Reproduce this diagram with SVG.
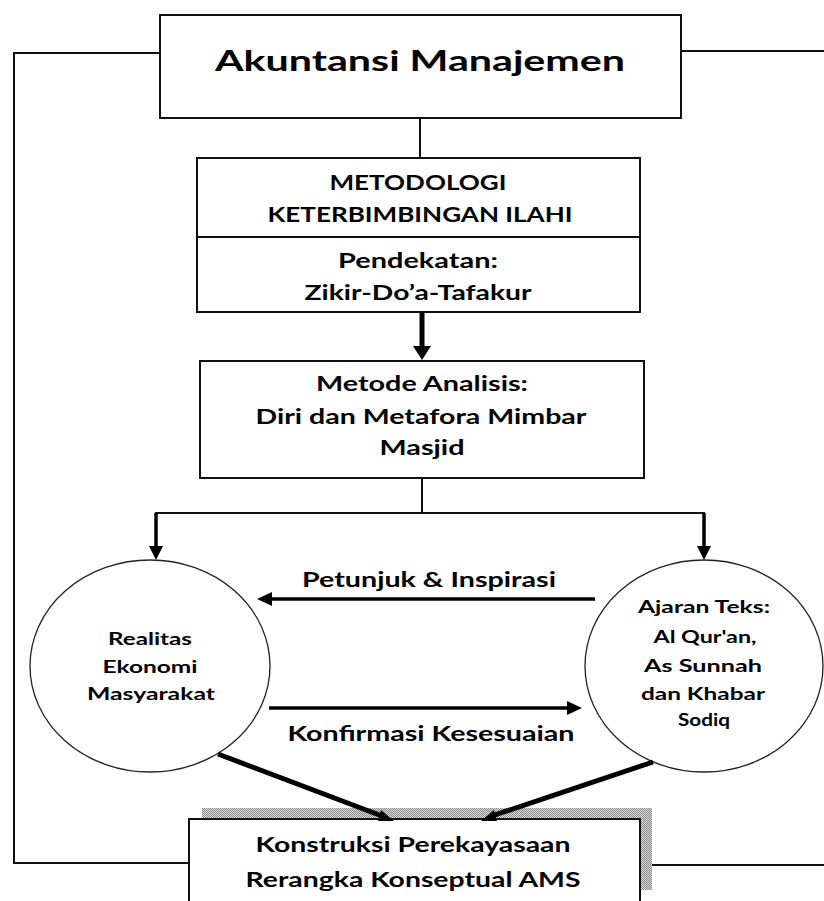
<svg xmlns="http://www.w3.org/2000/svg" width="824" height="901" viewBox="0 0 824 901">
  <style>
    .box { fill: #ffffff; stroke: #111111; stroke-width: 2; }
    .oval { fill: #ffffff; stroke: #222222; stroke-width: 1.3; }
    .line { fill: none; stroke: #111111; stroke-width: 2; }
    .thick { fill: none; stroke: #000000; stroke-width: 5; }
    .mid { fill: none; stroke: #000000; stroke-width: 3.5; }
    .head { fill: #000000; }
    text { font-family: Lato, "Open Sans", "Liberation Sans", sans-serif; font-weight: 700; fill: #000000; text-anchor: middle; }
    .t1 { font-size: 29px; }
    .t2 { font-size: 21px; }
    .t3 { font-size: 16.5px; }
    .t4 { font-size: 20px; }
  </style>
  <defs>
    <pattern id="dots" width="2" height="2" patternUnits="userSpaceOnUse">
      <rect width="2" height="2" fill="#d8d8d8"/>
      <rect width="1" height="1" fill="#8c8c8c"/>
      <rect x="1" y="1" width="1" height="1" fill="#8c8c8c"/>
    </pattern>
  </defs>

  <g id="akuntansi-manajemen">
    <rect class="box" x="160" y="15" width="521" height="103"/>
    <text class="t1" x="420" y="71" textLength="410" lengthAdjust="spacingAndGlyphs">Akuntansi Manajemen</text>
  </g>

  <g id="metodologi">
    <rect class="box" x="197" y="158" width="443" height="154"/>
    <line class="line" x1="197" y1="237" x2="640" y2="237"/>
    <text class="t2" x="418" y="190" textLength="177" lengthAdjust="spacingAndGlyphs">METODOLOGI</text>
    <text class="t2" x="420" y="222" textLength="305" lengthAdjust="spacingAndGlyphs">KETERBIMBINGAN ILAHI</text>
    <text class="t2" x="418" y="268" textLength="160" lengthAdjust="spacingAndGlyphs">Pendekatan:</text>
    <text class="t2" x="418" y="300" textLength="227" lengthAdjust="spacingAndGlyphs">Zikir-Do’a-Tafakur</text>
  </g>

  <g id="metode-analisis">
    <rect class="box" x="200" y="361" width="444" height="117"/>
    <text class="t2" x="422" y="391" textLength="212" lengthAdjust="spacingAndGlyphs">Metode Analisis:</text>
    <text class="t2" x="421" y="424" textLength="331" lengthAdjust="spacingAndGlyphs">Diri dan Metafora Mimbar</text>
    <text class="t2" x="422" y="455" textLength="85" lengthAdjust="spacingAndGlyphs">Masjid</text>
  </g>

  <g id="realitas">
    <ellipse class="oval" cx="150" cy="666" rx="120" ry="106"/>
    <text class="t3" x="150" y="645" textLength="84" lengthAdjust="spacingAndGlyphs">Realitas</text>
    <text class="t3" x="150" y="673" textLength="95" lengthAdjust="spacingAndGlyphs">Ekonomi</text>
    <text class="t3" x="151" y="700" textLength="128" lengthAdjust="spacingAndGlyphs">Masyarakat</text>
  </g>

  <g id="ajaran-teks">
    <ellipse class="oval" cx="704" cy="666" rx="119" ry="106"/>
    <text class="t3" x="704" y="613" textLength="132" lengthAdjust="spacingAndGlyphs">Ajaran Teks:</text>
    <text class="t3" x="705" y="643" textLength="103" lengthAdjust="spacingAndGlyphs">Al Qur'an,</text>
    <text class="t3" x="703" y="672" textLength="118" lengthAdjust="spacingAndGlyphs">As Sunnah</text>
    <text class="t3" x="703" y="700" textLength="124" lengthAdjust="spacingAndGlyphs">dan Khabar</text>
    <text class="t3" x="704" y="726" textLength="52" lengthAdjust="spacingAndGlyphs">Sodiq</text>
  </g>

  <g id="label-petunjuk">
    <text class="t2" x="429" y="587" textLength="254" lengthAdjust="spacingAndGlyphs">Petunjuk &amp; Inspirasi</text>
  </g>

  <g id="label-konfirmasi">
    <text class="t2" x="431" y="741" textLength="287" lengthAdjust="spacingAndGlyphs">Konfirmasi Kesesuaian</text>
  </g>

  <g id="konstruksi">
    <rect x="202" y="808" width="450" height="82" fill="url(#dots)"/>
    <rect class="box" x="189" y="819" width="451" height="90"/>
    <text class="t4" x="413" y="852" textLength="315" lengthAdjust="spacingAndGlyphs">Konstruksi Perekayasaan</text>
    <text class="t4" x="413" y="887" textLength="335" lengthAdjust="spacingAndGlyphs">Rerangka Konseptual AMS</text>
  </g>

  <!-- connectors, drawn last so arrow tips sit on top of the boxes -->
  <g id="connectors">
    <!-- feedback loop on the left and the outgoing lines on the right -->
    <polyline class="line" points="160,53 14,53 14,863 189,863"/>
    <line class="line" x1="681" y1="51" x2="824" y2="51"/>
    <line class="line" x1="652" y1="865" x2="824" y2="865"/>
    <!-- top box to methodology box -->
    <line class="line" x1="420" y1="118" x2="420" y2="158"/>
    <!-- methodology to analysis -->
    <line class="thick" x1="422" y1="312" x2="422" y2="348"/>
    <polygon class="head" points="413,346 431,346 422,360"/>
    <!-- split toward both ovals -->
    <line class="line" x1="422" y1="478" x2="422" y2="513"/>
    <line class="line" x1="155" y1="513" x2="705" y2="513"/>
    <line class="mid" x1="156" y1="513" x2="156" y2="548"/>
    <polygon class="head" points="149,546 163,546 156,560"/>
    <line class="mid" x1="704" y1="513" x2="704" y2="548"/>
    <polygon class="head" points="697,546 711,546 704,560"/>
    <!-- guidance arrow (right to left) -->
    <line class="mid" x1="595" y1="599" x2="270" y2="599"/>
    <polygon class="head" points="272,592 272,606 257,599"/>
    <!-- confirmation arrow (left to right) -->
    <line class="mid" x1="269" y1="708" x2="569" y2="708"/>
    <polygon class="head" points="567,701 567,715 582,708"/>
    <!-- ovals down to the construction box -->
    <line class="thick" x1="218" y1="754" x2="382" y2="816"/>
    <polygon class="head" points="381,810 378,821 394,821"/>
    <line class="thick" x1="653" y1="762" x2="492" y2="816"/>
    <polygon class="head" points="494,810 497,821 481,821"/>
  </g>
</svg>
